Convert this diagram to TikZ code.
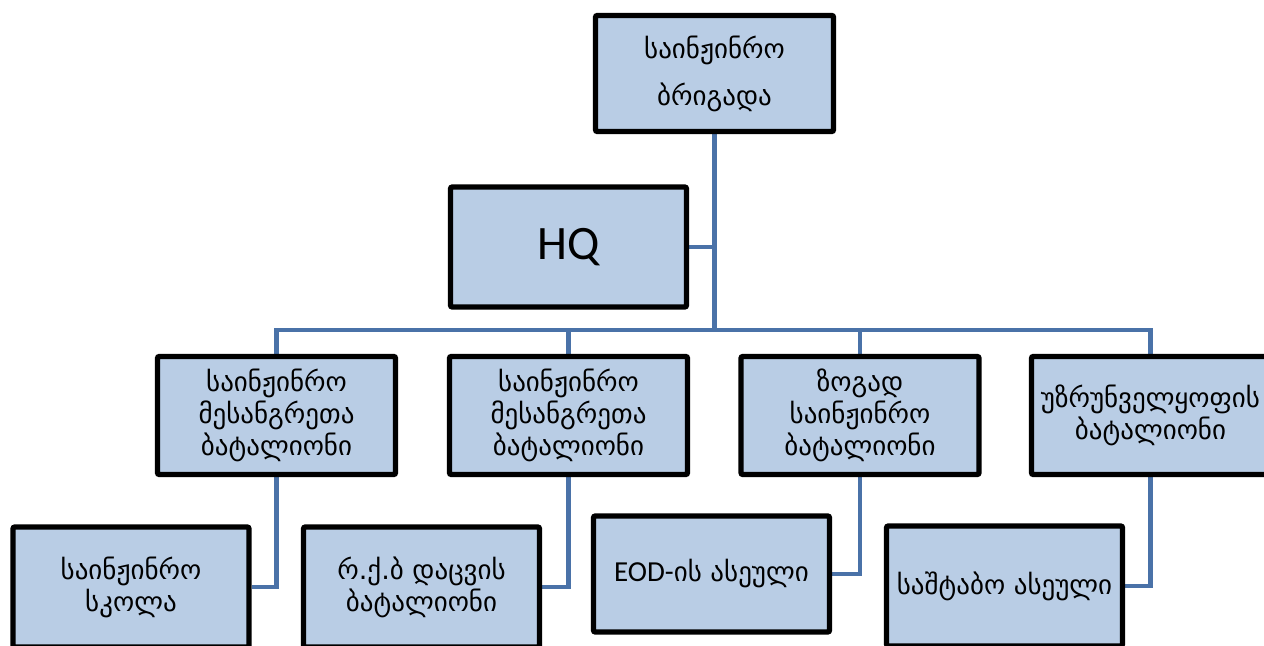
\documentclass[tikz,border=0pt]{standalone}
\usepackage{fontspec}
\setmainfont{DejaVu Sans}
\newfontfamily\lat{Carlito}
\usetikzlibrary{backgrounds}
\definecolor{boxfill}{HTML}{B9CDE5}
\definecolor{linkblue}{HTML}{4A72A8}
\tikzset{
  orgbox/.style={draw=black, line width=2.7pt, fill=boxfill, rounded corners=1pt,
    minimum width=119pt, minimum height=59pt, align=center, inner sep=0pt,
    font=\fontsize{13.5}{16}\selectfont},
  link/.style={draw=linkblue, line width=2.2pt}
}
\begin{document}
\begin{tikzpicture}[x=0.5pt,y=-0.5pt]
\useasboundingbox (0,0) rectangle (1264,646);
\clip (0,0) rectangle (1264,646);
\node[orgbox, minimum height=58pt, font=\fontsize{13.5}{23.5}\selectfont] (top) at (714.5,73.5) {საინჟინრო\\ბრიგადა};
\node[orgbox, minimum width=118pt, minimum height=60pt, font=\lat\fontsize{24}{28}\selectfont] (hq) at (568.5,247) {HQ};
\node[orgbox] (b1) at (276.5,415.5) {საინჟინრო\\მესანგრეთა\\ბატალიონი};
\node[orgbox] (b2) at (568.5,415.5) {საინჟინრო\\მესანგრეთა\\ბატალიონი};
\node[orgbox] (b3) at (860,415.5) {ზოგად\\საინჟინრო\\ბატალიონი};
\node[orgbox] (b4) at (1150.5,415.5) {უზრუნველყოფის\\ბატალიონი};
\node[orgbox, minimum width=118pt, minimum height=60pt] (c1) at (131,587) {საინჟინრო\\სკოლა};
\node[orgbox, minimum width=118pt, minimum height=60pt] (c2) at (421.5,587) {რ.ქ.ბ დაცვის\\ბატალიონი};
\node[orgbox, minimum width=118pt, minimum height=58pt] (c3) at (711.5,574) {{\lat\fontsize{14.5}{16}\selectfont EOD-}ის ასეული};
\node[orgbox, minimum width=118pt, minimum height=60pt] (c4) at (1004.5,586) {საშტაბო ასეული};
\coordinate (bus) at (714.5,330);
\begin{scope}[on background layer]
\draw[link] (top.south) -- (bus);
\draw[link] (hq.east) -- (hq.east -| top.south);
\draw[link] (b1.north) |- (b4.north |- bus) -- (b4.north);
\draw[link] (b2.north) -- (b2.north |- bus);
\draw[link] (b3.north) -- (b3.north |- bus);
\draw[link] (b1.south) |- (c1.east);
\draw[link] (b2.south) |- (c2.east);
\draw[link] (b3.south) |- (c3.east);
\draw[link] (b4.south) |- (c4.east);
\end{scope}
\end{tikzpicture}
\end{document}
